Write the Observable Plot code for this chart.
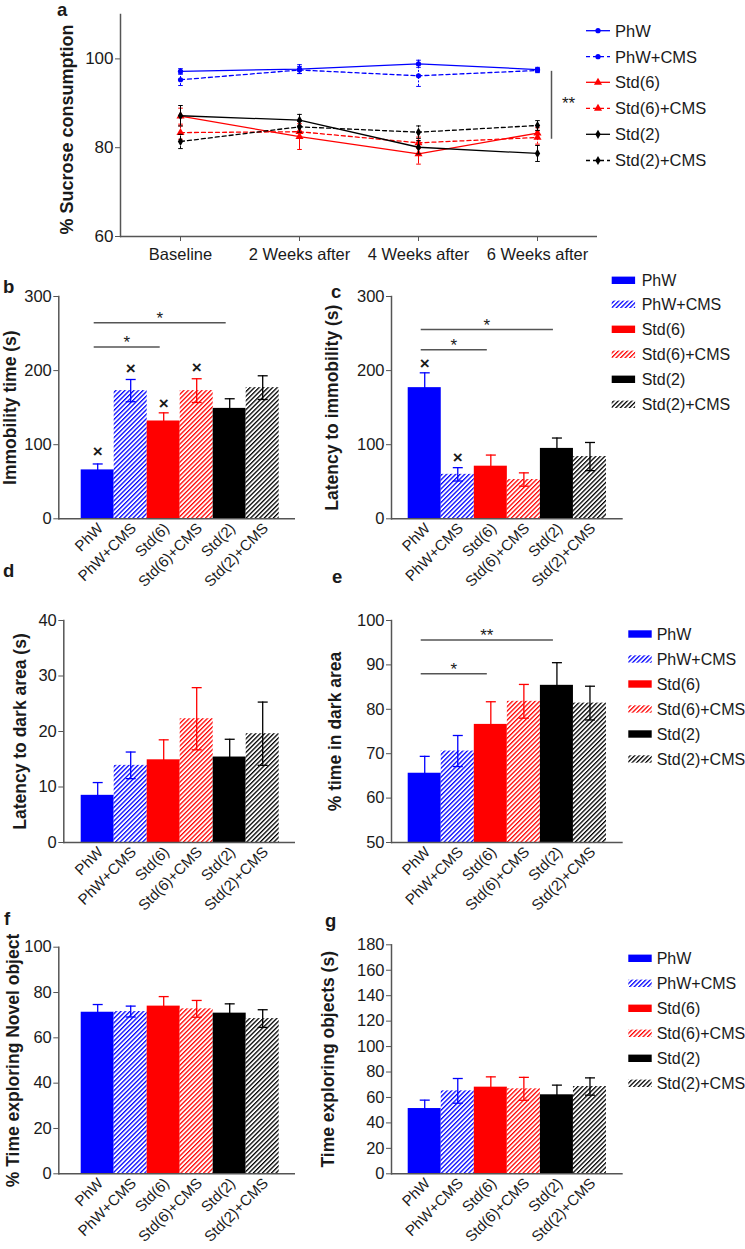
<!DOCTYPE html>
<html><head><meta charset="utf-8">
<script src="https://cdn.jsdelivr.net/npm/d3@7"></script>
<script src="https://cdn.jsdelivr.net/npm/@observablehq/plot@0.6"></script>
<style>
 body{margin:0;background:#fff;}
 #root{position:relative;width:745px;height:1249px;overflow:hidden;background:#fff;}
 #root svg{overflow:visible;}
</style></head><body>
<svg width="0" height="0" style="position:absolute;left:0;top:0">
 <defs>
  <pattern id="hatch-blue" patternUnits="userSpaceOnUse" width="3.2" height="3.2" patternTransform="rotate(45)">
   <rect x="0" y="0" width="3.2" height="3.2" fill="#fff"/><rect x="0" y="0" width="1.3" height="3.2" fill="#0000ff"/>
  </pattern>
  <pattern id="hatch-red" patternUnits="userSpaceOnUse" width="3.2" height="3.2" patternTransform="rotate(45)">
   <rect x="0" y="0" width="3.2" height="3.2" fill="#fff"/><rect x="0" y="0" width="1.3" height="3.2" fill="#ff0000"/>
  </pattern>
  <pattern id="hatch-black" patternUnits="userSpaceOnUse" width="3.2" height="3.2" patternTransform="rotate(45)">
   <rect x="0" y="0" width="3.2" height="3.2" fill="#fff"/><rect x="0" y="0" width="1.3" height="3.2" fill="#000000"/>
  </pattern>
 </defs>
</svg>
<div id="root"></div>
<script>
// ---------------- DATA ----------------
const weeks = ["Baseline", "2 Weeks after", "4 Weeks after", "6 Weeks after"];
const groups = ["PhW", "PhW+CMS", "Std(6)", "Std(6)+CMS", "Std(2)", "Std(2)+CMS"];
const groupColors = ["#0000ff", "#0000ff", "#ff0000", "#ff0000", "#000000", "#000000"];
const groupFills = ["#0000ff", "url(#hatch-blue)", "#ff0000", "url(#hatch-red)", "#000000", "url(#hatch-black)"];

// (a) % sucrose consumption
const sucPhW      = [97.2, 97.7, 98.9, 97.6];
const sucPhWCMS   = [95.3, 97.5, 96.2, 97.4];
const sucStd6     = [87.1, 82.5, 78.6, 83.3];
const sucStd6CMS  = [83.4, 83.6, 81.1, 82.3];
const sucStd2     = [87.2, 86.2, 80.1, 78.7];
const sucStd2CMS  = [81.4, 84.7, 83.5, 85.0];
const errPhW      = [0.6, 1.0, 0.8, 0.5];
const errPhWCMS   = [1.3, 0.8, 2.4, 0.5];
const errStd6     = [1.8, 2.9, 2.3, 1.2];
const errStd6CMS  = [1.5, 1.2, 1.3, 1.5];
const errStd2     = [2.3, 1.3, 1.5, 1.8];
const errStd2CMS  = [1.6, 1.2, 1.4, 1.1];
const sigAWeek = "6 Weeks after";
const sigAY = [97.2, 81.9];
const sigALabelY = 90.75;

// (b) immobility time (s)
const immobility    = [66, 173, 132, 173, 149, 177];
const immobilityErr = [8, 15, 11, 16, 13, 16];
const crossesB = [{g: "PhW", y: 90.6}, {g: "PhW+CMS", y: 202.7}, {g: "Std(6)", y: 156}, {g: "Std(6)+CMS", y: 203.6}];
const sigsB = [{from: "PhW", to: "Std(2)", y: 264.6, label: "*"}, {from: "PhW", to: "Std(6)", y: 231.8, label: "*"}];

// (c) latency to immobility (s)
const latency    = [177, 60, 71, 53, 95, 84];
const latencyErr = [20, 9, 15, 9, 14, 19];
const crossesC = [{g: "PhW", y: 209}, {g: "PhW+CMS", y: 83}];
const sigsC = [{from: "PhW", to: "Std(2)", y: 255.3, label: "*"}, {from: "PhW", to: "Std(6)", y: 228.3, label: "*"}];

// (d) latency to dark area (s)
const darkLatency    = [8.5, 13.9, 14.9, 22.3, 15.4, 19.6];
const darkLatencyErr = [2.3, 2.4, 3.6, 5.6, 3.2, 5.7];

// (e) % time in dark area
const darkTime    = [65.6, 70.6, 76.6, 81.8, 85.4, 81.4];
const darkTimeErr = [3.8, 3.5, 5.1, 3.8, 5.1, 3.8];
const sigsE = [{from: "PhW", to: "Std(2)", y: 95.6, label: "**"}, {from: "PhW", to: "Std(6)", y: 88.0, label: "*"}];

// (f) % time exploring novel object
const novel    = [71.3, 71.6, 74.0, 72.8, 70.9, 68.5];
const novelErr = [3.4, 2.4, 4.2, 3.7, 4.1, 3.9];

// (g) time exploring objects (s)
const exploring    = [51.3, 65.2, 68.1, 66.8, 62.1, 68.6];
const exploringErr = [6.6, 9.7, 8.1, 9.0, 7.6, 6.8];

// ---------------- DRAWING ----------------
const FONT = "'Liberation Sans', Arial, Helvetica, sans-serif";
const AXIS = "#555";
const TXT = "#1a1a1a";
const root = document.getElementById("root");
function place(node, left, top) {
  node.style.position = "absolute";
  node.style.left = left + "px";
  node.style.top = top + "px";
  root.appendChild(node);
}
const capSymbol = {draw(ctx, size) { const w = Math.sqrt(size / Math.PI); ctx.moveTo(-w, 0); ctx.lineTo(w, 0); }};
const baseStyle = {fontFamily: FONT, fontSize: "16px", color: TXT, background: "transparent", overflow: "visible"};

// ---- panel a ----
const sucValues = [sucPhW, sucPhWCMS, sucStd6, sucStd6CMS, sucStd2, sucStd2CMS];
const sucErrors = [errPhW, errPhWCMS, errStd6, errStd6CMS, errStd2, errStd2CMS];
const dashed = [false, true, false, true, false, true];
const symbolsA = ["circle", "circle", "triangle", "triangle", "diamond", "diamond"];
const symbolR = [2.6, 2.6, 3.0, 3.0, 2.8, 2.8];
{
  const left = 0, top = 0, width = 600, height = 275;
  const fl = 120, fr = 597, ft = 14, fb = 236;
  const marks = [
    Plot.ruleY([60], {stroke: AXIS, strokeWidth: 1.5}),
    Plot.frame({anchor: "left", stroke: AXIS, strokeWidth: 1.5}),
    Plot.axisY({ticks: [60, 80, 100], tickSize: 5, tickPadding: 2, fontSize: 17, stroke: AXIS, fill: TXT, label: null}),
    Plot.axisX({tickSize: 5, tickPadding: 7, fontSize: 16.5, stroke: AXIS, fill: TXT, label: null})
  ];
  groups.forEach((name, s) => {
    const rows = weeks.map((w, i) => ({week: w, v: sucValues[s][i], e: sucErrors[s][i]}));
    const col = groupColors[s];
    const dash = dashed[s] ? "4,3" : null;
    marks.push(
      Plot.ruleX(rows, {x: "week", y1: d => d.v - d.e, y2: d => d.v + d.e, stroke: col, strokeWidth: 1, strokeDasharray: dashed[s] ? "2,1.5" : null}),
      Plot.dot(rows, {x: "week", y: d => d.v + d.e, symbol: capSymbol, r: 2.3, stroke: col, fill: "none", strokeWidth: 1}),
      Plot.dot(rows, {x: "week", y: d => d.v - d.e, symbol: capSymbol, r: 2.3, stroke: col, fill: "none", strokeWidth: 1}),
      Plot.line(rows, {x: "week", y: "v", stroke: col, strokeWidth: 1.3, strokeDasharray: dash}),
      Plot.dot(rows, {x: "week", y: "v", symbol: symbolsA[s], r: symbolR[s], fill: col, stroke: "none"})
    );
  });
  marks.push(
    Plot.ruleX([sigAWeek], {x: d => d, y1: () => sigAY[0], y2: () => sigAY[1], dx: 14, stroke: AXIS, strokeWidth: 1.5}),
    Plot.text([sigAWeek], {x: d => d, y: () => sigALabelY, text: () => "**", dx: 31, dy: 4, fontSize: 17, fill: TXT}),
    Plot.text(["% Sucrose consumption"], {text: d => d, frameAnchor: "left", textAnchor: "middle", rotate: -90, dx: 67 - fl, dy: 4, fontSize: 18, fontWeight: "bold", fill: TXT})
  );
  const p = Plot.plot({
    width, height,
    marginLeft: fl - left, marginRight: left + width - fr, marginTop: ft - top, marginBottom: top + height - fb,
    x: {type: "point", domain: weeks, padding: 0.5},
    y: {domain: [60, 110]},
    style: baseStyle,
    marks
  });
  place(p, left, top);
}

// ---- bar panels ----
function barPanel(cfg) {
  const {left, top, width, height, fl, fr, ft, fb, bl, br, yDomain, yTicks, values, errs, ylabel, labelX, crosses = [], sigs = []} = cfg;
  const data = groups.map((g, i) => ({i, g, v: values[i], e: errs[i], fill: groupFills[i], color: groupColors[i]}));
  const idx = g => groups.indexOf(g);
  const p = Plot.plot({
    width, height,
    marginLeft: fl - left, marginRight: left + width - fr, marginTop: ft - top, marginBottom: top + height - fb,
    x: {type: "linear", domain: [-0.5, 5.5], range: [bl - left, br - left]},
    y: {domain: yDomain},
    color: {type: "identity"},
    style: baseStyle,
    marks: [
      Plot.rect(data, {x1: d => d.i - 0.5, x2: d => d.i + 0.5, y1: () => yDomain[0], y2: "v", fill: "fill"}),
      Plot.ruleX(data, {x: "i", y1: d => d.v - d.e, y2: d => d.v + d.e, stroke: "color", strokeWidth: 1.3}),
      Plot.dot(data, {x: "i", y: d => d.v + d.e, symbol: capSymbol, r: 5, stroke: "color", fill: "none", strokeWidth: 1.3}),
      Plot.dot(data, {x: "i", y: d => d.v - d.e, symbol: capSymbol, r: 5, stroke: "color", fill: "none", strokeWidth: 1.3}),
      Plot.ruleY([yDomain[0]], {stroke: AXIS, strokeWidth: 1.5}),
      Plot.frame({anchor: "left", stroke: AXIS, strokeWidth: 1.5}),
      Plot.axisY({ticks: yTicks, tickSize: 5, tickPadding: 2, fontSize: 16.5, stroke: AXIS, fill: TXT, label: null}),
      Plot.axisX({ticks: groups.map((g, i) => i), tickFormat: i => groups[i], tickRotate: -45, tickSize: 0, tickPadding: 7, dx: 3, fontSize: 15, fill: TXT, label: null}),
      Plot.link(sigs, {x1: d => idx(d.from), x2: d => idx(d.to), y1: "y", y2: "y", dx: -4, stroke: AXIS, strokeWidth: 1.5}),
      Plot.text(sigs, {x: d => (idx(d.from) + idx(d.to)) / 2, y: "y", text: "label", dx: -4, dy: -4, fontSize: 17, fill: TXT}),
      Plot.text(crosses, {x: d => idx(d.g), y: "y", text: () => "×", fontSize: 17, fontWeight: "bold", fill: TXT}),
      Plot.text([ylabel], {text: d => d, frameAnchor: "left", textAnchor: "middle", rotate: -90, dx: labelX - fl, fontSize: 17.5, fontWeight: "bold", fill: TXT})
    ]
  });
  place(p, left, top);
}

const L = {left: 0, width: 300, fr: 295, bl: 80.7, br: 278.7};
const R = {left: 315, width: 311, fr: 622.7, bl: 407.7, br: 606};

barPanel({...L, top: 270, height: 320, fl: 58.3, ft: 296, fb: 518.3, yDomain: [0, 300], yTicks: [0, 100, 200, 300],
  values: immobility, errs: immobilityErr, ylabel: "Immobility time (s)", labelX: 10, crosses: crossesB, sigs: sigsB});
barPanel({...R, top: 270, height: 320, fl: 391, ft: 296, fb: 518.3, yDomain: [0, 300], yTicks: [0, 100, 200, 300],
  values: latency, errs: latencyErr, ylabel: "Latency to immobility (s)", labelX: 332, crosses: crossesC, sigs: sigsC});
barPanel({...L, top: 590, height: 320, fl: 63.3, ft: 620, fb: 842, yDomain: [0, 40], yTicks: [0, 10, 20, 30, 40],
  values: darkLatency, errs: darkLatencyErr, ylabel: "Latency to dark area (s)", labelX: 20});
barPanel({...R, top: 590, height: 320, fl: 391, ft: 620, fb: 842, yDomain: [50, 100], yTicks: [50, 60, 70, 80, 90, 100],
  values: darkTime, errs: darkTimeErr, ylabel: "% time in dark area", labelX: 335, sigs: sigsE});
barPanel({...L, top: 905, height: 344, fl: 58.3, ft: 946.7, fb: 1173.3, yDomain: [0, 100], yTicks: [0, 20, 40, 60, 80, 100],
  values: novel, errs: novelErr, ylabel: "% Time exploring Novel object", labelX: 12.5});
barPanel({...R, top: 905, height: 344, fl: 391, ft: 944.3, fb: 1173.3, yDomain: [0, 180], yTicks: d3.range(0, 181, 20),
  values: exploring, errs: exploringErr, ylabel: "Time exploring objects (s)", labelX: 328});

// ---- overlay: panel letters and legends ----
const overlay = d3.create("svg").attr("width", 745).attr("height", 1249)
  .attr("font-family", FONT).style("position", "absolute").style("left", "0px").style("top", "0px");
const letters = [["a", 57, 16], ["b", 3, 292.7], ["c", 331, 298], ["d", 3, 577], ["e", 332, 583], ["f", 4, 925], ["g", 325, 926.5]];
letters.forEach(([t, x, y]) => overlay.append("text").attr("x", x).attr("y", y).attr("font-size", 18.5).attr("font-weight", "bold").attr("fill", TXT).text(t));

function barLegend(sx, tx, rows) {
  rows.forEach((y, i) => {
    overlay.append("rect").attr("x", sx).attr("y", y - 3.7).attr("width", 23.4).attr("height", 7.4).attr("fill", groupFills[i]);
    overlay.append("text").attr("x", tx).attr("y", y + 5.8).attr("font-size", 16).attr("fill", TXT).text(groups[i]);
  });
}
barLegend(611.7, 641.7, [280.3, 304.3, 329.3, 354.3, 379.3, 404.3]);
barLegend(628.3, 656.7, [634, 659, 684, 709, 734, 759]);
barLegend(628.3, 656.7, [958.3, 983.3, 1008.3, 1033.3, 1058.3, 1083.3]);

const legendARows = [30.7, 56.7, 82.3, 108.3, 134.3, 160.5];
const d3sym = {circle: d3.symbolCircle, triangle: d3.symbolTriangle, diamond: d3.symbolDiamond};
legendARows.forEach((y, i) => {
  overlay.append("line").attr("x1", 586).attr("x2", 610).attr("y1", y).attr("y2", y)
    .attr("stroke", groupColors[i]).attr("stroke-width", 1.3).attr("stroke-dasharray", dashed[i] ? "4,3" : null);
  overlay.append("path").attr("transform", `translate(598,${y})`)
    .attr("d", d3.symbol(d3sym[symbolsA[i]], Math.PI * symbolR[i] * symbolR[i])()).attr("fill", groupColors[i]);
  overlay.append("text").attr("x", 615).attr("y", y + 5.8).attr("font-size", 16.5).attr("fill", TXT).text(groups[i]);
});
place(overlay.node(), 0, 0);
</script></body></html>
